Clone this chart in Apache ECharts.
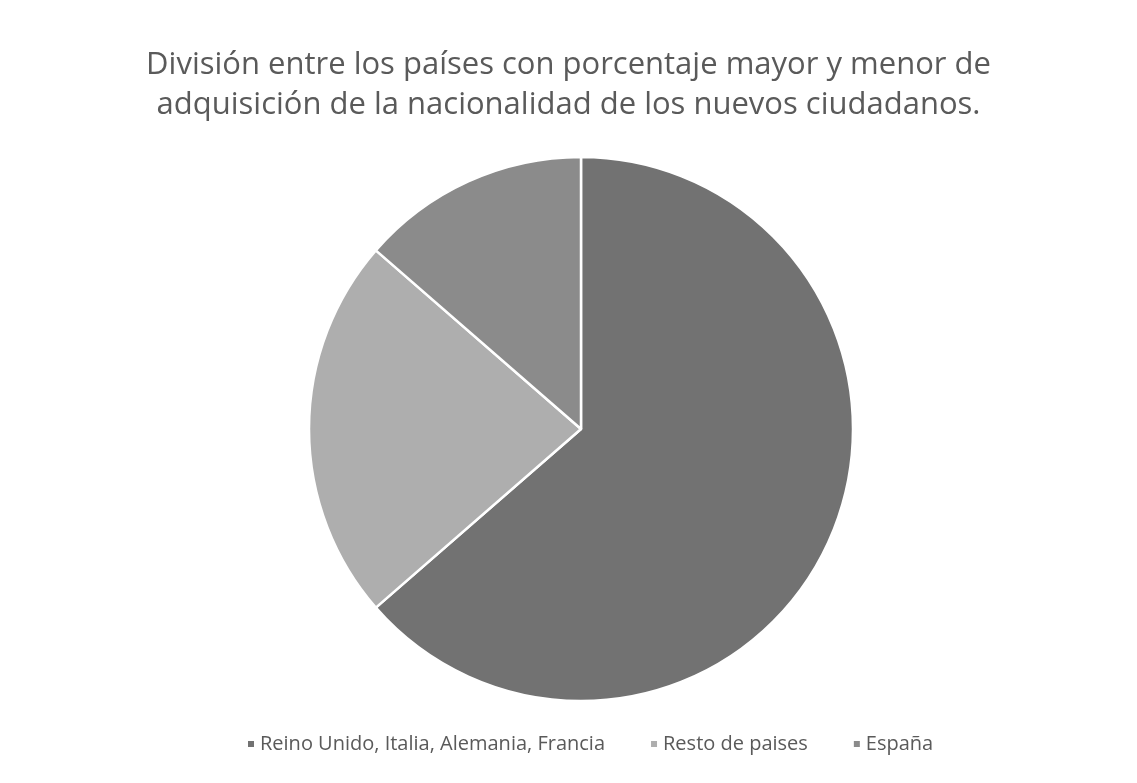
<!DOCTYPE html>
<html>
<head>
<meta charset="utf-8">
<script src="https://cdn.jsdelivr.net/npm/echarts@6/dist/echarts.min.js"></script>
<style>
  html, body { margin: 0; padding: 0; background: #ffffff; }
  #chart { width: 1137px; height: 783px; }
</style>
</head>
<body>
<div id="chart"></div>
<script>
// Share of nationality acquisitions by group of countries (%)
const categories = ['Reino Unido, Italia, Alemania, Francia', 'Resto de paises', 'España'];
const shares = [63.6, 22.8, 13.6];
const sliceColors = ['#727272', '#aeaeae', '#8b8b8b'];
const titleLines = ['División entre los países con porcentaje mayor y menor de',
                    'adquisición de la nacionalidad de los nuevos ciudadanos.'];

const chart = echarts.init(document.getElementById('chart'));
chart.setOption({
  backgroundColor: '#ffffff',
  animation: false,
  title: {
    text: titleLines.join('\n'),
    left: 'center',
    top: 40,
    textStyle: {
      fontFamily: 'Open Sans',
      fontSize: 31,
      fontWeight: 'normal',
      color: '#5a5a5a',
      lineHeight: 40
    }
  },
  legend: {
    data: categories,
    bottom: 24,
    left: 241,
    icon: 'rect',
    itemWidth: 8,
    itemHeight: 8,
    itemGap: 44,
    textStyle: { fontFamily: 'Open Sans', fontSize: 20, color: '#5a5a5a' }
  },
  series: [{
    type: 'pie',
    center: [581, 429],
    radius: 272,
    startAngle: 90,
    clockwise: true,
    label: { show: false },
    labelLine: { show: false },
    itemStyle: { borderColor: '#ffffff', borderWidth: 2.5 },
    emphasis: { disabled: true },
    data: categories.map((name, i) => ({
      name: name,
      value: shares[i],
      itemStyle: { color: sliceColors[i] }
    }))
  }]
});
</script>
</body>
</html>
